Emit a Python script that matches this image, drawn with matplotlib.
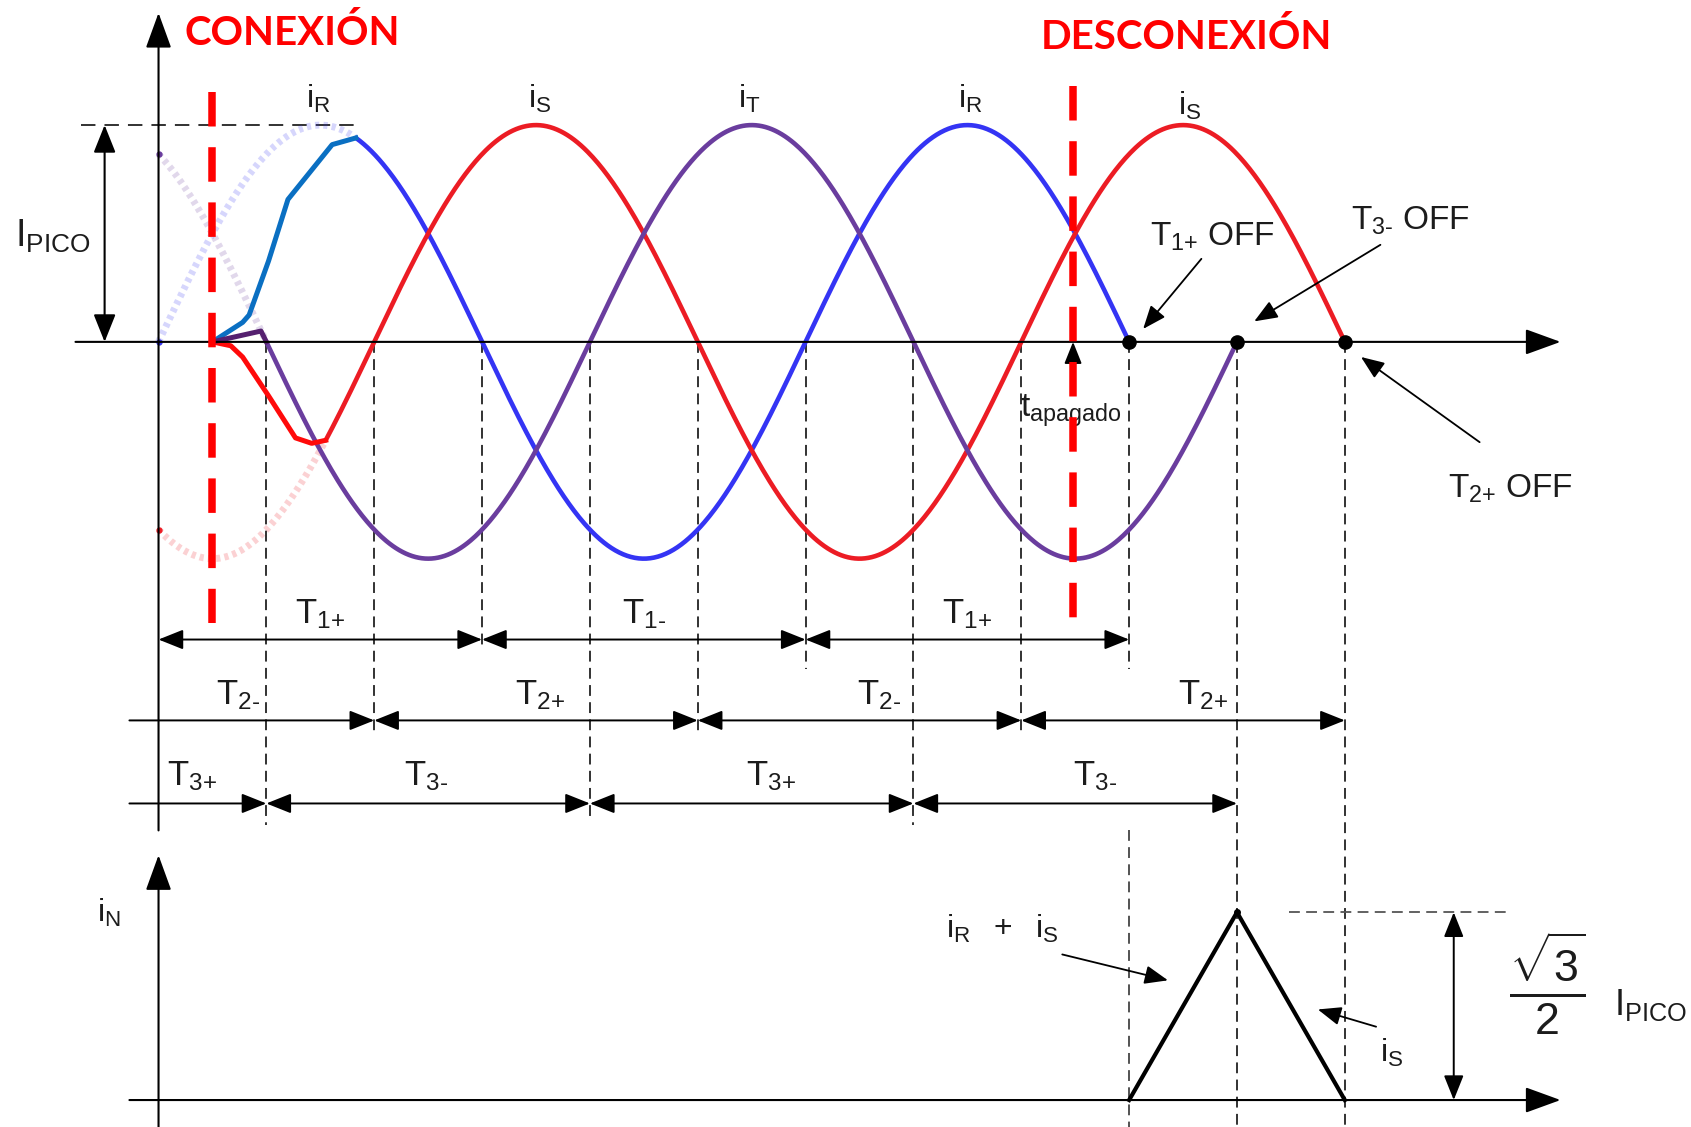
import numpy as np
import matplotlib
matplotlib.use("Agg")
import matplotlib.pyplot as plt
from matplotlib.patches import FancyArrowPatch

plt.rcParams['font.family'] = ['Liberation Sans', 'DejaVu Sans']
plt.rcParams['mathtext.fontset'] = 'custom'
plt.rcParams['mathtext.rm'] = 'Liberation Sans'
plt.rcParams['mathtext.it'] = 'Liberation Sans:italic'
plt.rcParams['mathtext.bf'] = 'Liberation Sans:bold'

# ---- three-phase currents: angle in electrical degrees, current in units of I_PICO
phase_names = ['R', 'S', 'T']
phase_lag_deg = [0, 120, 240]
phase_end_deg = [540, 660, 600]        # current zero at which each pole clears
phase_join_deg = [109.8, 93.0, 60.0]   # where the inrush merges with steady state
connect_deg = 30.0
disconnect_deg = 508.8

# inrush transients right after closing (angle, current)
trans_R_deg = [30.0, 46.8, 50.4, 61.2, 72.0, 96.6]
trans_R_val = [0.0, 0.09, 0.124, 0.373, 0.657, 0.91]
trans_S_deg = [30.0, 40.2, 46.8, 61.2, 76.2, 85.2]
trans_S_val = [0.0, -0.018, -0.07, -0.249, -0.443, -0.468]
trans_T_deg = [30.0, 57.0]
trans_T_val = [0.0, 0.05]

# neutral current after the first pole opens
neutral_deg = [540, 600, 660]
neutral_val = [0.0, np.sqrt(3) / 2, 0.0]

# conduction intervals of each switch pair
t1_bounds = [0, 180, 360, 540]
t1_labels = ['1+', '1-', '1+']
t2_bounds = [-16.2, 120, 300, 480, 660]
t2_labels = ['2-', '2+', '2-', '2+']
t3_bounds = [-16.2, 60, 240, 420, 600]
t3_labels = ['3+', '3-', '3+', '3-']

# phase name tags above the peaks
tag_deg = [88.8, 211.8, 328.8, 451.8, 573.6]
tag_names = ['R', 'S', 'T', 'R', 'S']
# zero-crossing guide lines
guide_deg = [60, 120, 180, 240, 300, 360, 420, 480, 540, 600, 660]

# ---- layout
W_PX, H_PX = 1568.0, 1045.0
ORIGIN_X, ZERO_TOP, ZERO_BOT = 147.0, 317.0, 1020.0
DEG_PER_PX, AMP_PX = 0.6, 201.0

wave_colors = ['#3434f4', '#ec1c24', '#6a3d9e']
trans_colors = ['#0a6fc2', '#ff0a0a', '#55206f']
INK = '#1c1c1c'

fig = plt.figure(figsize=(16.91, 11.27), dpi=100)
ax = fig.add_axes([0, 0, 1, 1])
axn = fig.add_axes([0, 0, 1, 1])
for a in (ax, axn):
    a.set_xlim(-ORIGIN_X * DEG_PER_PX, (W_PX - ORIGIN_X) * DEG_PER_PX)
    a.axis('off')
    a.patch.set_alpha(0)
ax.set_ylim((ZERO_TOP - H_PX) / AMP_PX, ZERO_TOP / AMP_PX)
axn.set_ylim((ZERO_BOT - H_PX) / AMP_PX, ZERO_BOT / AMP_PX)


def ypx_top(y):
    return (ZERO_TOP - y) / AMP_PX


def ypx_bot(y):
    return (ZERO_BOT - y) / AMP_PX


def xpx(x):
    return (x - ORIGIN_X) * DEG_PER_PX


def arrow(a, p0, p1, style='-|>', lw=1.4, ms=16, hl=0.95, hw=0.38, color='black', z=5):
    a.add_patch(FancyArrowPatch(p0, p1, arrowstyle=f'{style},head_length={hl},head_width={hw}',
                                mutation_scale=ms, lw=lw, color=color,
                                shrinkA=0, shrinkB=0, zorder=z))


def current(theta, lag):
    return np.sin(np.radians(np.asarray(theta) - lag))


def sub(base, s):
    return r'$\mathrm{%s}_{\text{%s}}$' % (base, s)


# ---- axes of the upper plot
arrow(ax, (xpx(70), 0), (xpx(1447), 0), lw=1.5, ms=20, hl=1.1, hw=0.4)
arrow(ax, (0, ypx_top(770)), (0, ypx_top(12)), lw=1.5, ms=20, hl=1.1, hw=0.4)

# peak level and I_PICO dimension
ax.plot([xpx(75), xpx(330)], [1, 1], color='#222', lw=1.3, ls=(0, (8, 5)), zorder=2)
arrow(ax, (xpx(97), 0), (xpx(97), 1), style='<|-|>', lw=1.5, ms=18)
ax.text(xpx(14), ypx_top(229), sub('I', 'PICO'), fontsize=27, color=INK,
        ha='left', va='baseline')

# guide lines at zero crossings
guide_bottom_px = [765, 680, 600, 760, 680, 620, 765, 680, 620, H_PX, H_PX]
for g, b in zip(guide_deg, guide_bottom_px):
    ax.plot([g, g], [0, ypx_top(b)], color='#222', lw=1.3, ls=(0, (6, 3.5)), zorder=1)
ax.plot([540, 540], [ypx_top(770), ypx_top(H_PX)], color='#444', lw=1.3,
        ls=(0, (6, 3.5)), zorder=1)

# faint pre-closing waveforms
for lag, col, j in zip(phase_lag_deg, wave_colors, phase_join_deg):
    th = np.linspace(0, j, 200)
    ax.plot(th, current(th, lag), color=col, lw=5, alpha=0.2, ls=(0, (0.6, 0.6)), zorder=2)
    ax.plot([0], [current(0, lag)], 'o', ms=3.5, color=col, zorder=3)

# steady-state waveforms until each pole clears
for lag, col, j, e in zip(phase_lag_deg, wave_colors, phase_join_deg, phase_end_deg):
    th = np.linspace(j, e, 600)
    ax.plot(th, current(th, lag), color=col, lw=3.3, solid_capstyle='round', zorder=4)

# inrush transients
for degs, vals, lag, j, col in zip([trans_R_deg, trans_S_deg, trans_T_deg],
                                   [trans_R_val, trans_S_val, trans_T_val],
                                   phase_lag_deg, phase_join_deg, trans_colors):
    xs = list(degs) + [j]
    ys = list(vals) + [float(current(j, lag))]
    ax.plot(xs, ys, color=col, lw=3.6, solid_joinstyle='round', zorder=4)

# closing / opening instants
ax.plot([connect_deg] * 2, [ypx_top(85), ypx_top(578)], color='#ff0000', lw=5.4,
        ls=(0, (4.6, 2.76)), zorder=6)
ax.plot([disconnect_deg] * 2, [ypx_top(80), ypx_top(575)], color='#ff0000', lw=5.4,
        ls=(0, (4.6, 2.76)), zorder=6)
ax.text(xpx(271), ypx_top(31), 'CONEXIÓN', fontsize=29, fontweight='bold',
        family=['Lato', 'DejaVu Sans'], color='#ff0000', ha='center', va='center')
ax.text(xpx(1100), ypx_top(34), 'DESCONEXIÓN', fontsize=29, fontweight='bold',
        family=['Lato', 'DejaVu Sans'], color='#ff0000', ha='center', va='center')

# pole clearing points
ax.plot(phase_end_deg, [0, 0, 0], 'o', color='black', ms=9.5, zorder=7)

# phase tags
for d, n in zip(tag_deg, tag_names):
    base = 100 if d < 560 else 107
    ax.text(d, ypx_top(base), sub('i', n), fontsize=23, color=INK,
            ha='center', va='baseline')

# t_apagado marker
arrow(ax, (disconnect_deg, ypx_top(350)), (disconnect_deg, 0), lw=1.4, ms=14)
ax.text(xpx(946), ypx_top(386), sub('t', 'apagado'), fontsize=24, color=INK,
        ha='left', va='baseline')

# switch-off annotations
ax.text(xpx(1066), ypx_top(228), sub('T', '1+') + r'$\mathrm{\ OFF}$', fontsize=24,
        color=INK, ha='left', va='baseline')
arrow(ax, (xpx(1114), ypx_top(240)), (xpx(1060), ypx_top(305)), lw=1.3, ms=15)
ax.text(xpx(1253), ypx_top(213), sub('T', '3-') + r'$\mathrm{\ OFF}$', fontsize=24,
        color=INK, ha='left', va='baseline')
arrow(ax, (xpx(1280), ypx_top(227)), (xpx(1163), ypx_top(298)), lw=1.3, ms=15)
ax.text(xpx(1343), ypx_top(461), sub('T', '2+') + r'$\mathrm{\ OFF}$', fontsize=24,
        color=INK, ha='left', va='baseline')
arrow(ax, (xpx(1372), ypx_top(410)), (xpx(1262), ypx_top(331)), lw=1.3, ms=15)

# conduction interval rows
rows = [(t1_bounds, t1_labels, 593, 578, [90, 270, 450], True),
        (t2_bounds, t2_labels, 668, 653, [44, 212, 401, 581], False),
        (t3_bounds, t3_labels, 745, 728, [18.6, 149, 341, 521], False)]
for bounds, labels, y_row, y_lab, lab_x, left_head in rows:
    yr = ypx_top(y_row)
    for k in range(len(bounds) - 1):
        style = '<|-|>' if (k > 0 or left_head) else '-|>'
        arrow(ax, (bounds[k], yr), (bounds[k + 1], yr), style=style, lw=1.4, ms=16)
        ax.text(lab_x[k], ypx_top(y_lab), sub('T', labels[k]), fontsize=25,
                color=INK, ha='center', va='baseline')

# ---- neutral current plot
arrow(axn, (xpx(120), 0), (xpx(1447), 0), lw=1.5, ms=20, hl=1.1, hw=0.4)
arrow(axn, (0, ypx_bot(H_PX)), (0, ypx_bot(793)), lw=1.5, ms=20, hl=1.1, hw=0.4)
axn.text(xpx(101), ypx_bot(855), sub('i', 'N'), fontsize=23, color=INK,
         ha='center', va='baseline')
axn.plot(neutral_deg, neutral_val, color='black', lw=3.0, solid_joinstyle='miter', zorder=4)
axn.plot([600], [neutral_val[1]], 'o', color='black', ms=4, zorder=5)
axn.plot([xpx(1195), xpx(1400)], [neutral_val[1]] * 2, color='#555', lw=1.3,
         ls=(0, (6, 3.5)), zorder=1)
arrow(axn, (xpx(1348), 0), (xpx(1348), neutral_val[1]), style='<|-|>', lw=1.4, ms=16)
axn.text(xpx(1435), ypx_bot(912), r'$\frac{\sqrt{3}}{2}$', fontsize=46, color=INK,
         ha='center', va='center')
axn.text(xpx(1497), ypx_bot(941), sub('I', 'PICO'), fontsize=26, color=INK,
         ha='left', va='baseline')
axn.text(xpx(929), ypx_bot(870), r'$\mathrm{i_R\ \ +\ \ i_S}$', fontsize=23, color=INK,
         ha='center', va='baseline')
arrow(axn, (xpx(985), ypx_bot(885)), (xpx(1083), ypx_bot(909)), lw=1.3, ms=15)
axn.text(xpx(1290), ypx_bot(985), sub('i', 'S'), fontsize=23, color=INK,
         ha='center', va='baseline')
arrow(axn, (xpx(1276), ypx_bot(952)), (xpx(1222), ypx_bot(936)), lw=1.3, ms=15)

fig.savefig('out.png', dpi=100, facecolor='white')
